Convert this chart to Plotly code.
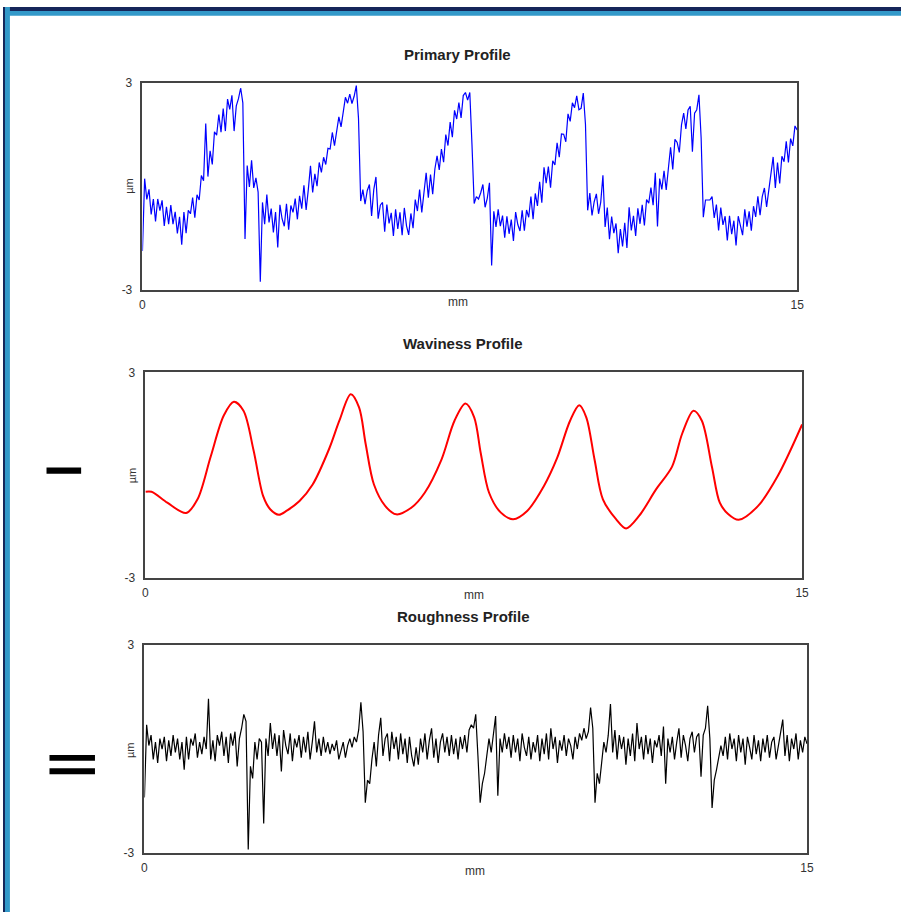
import plotly.graph_objects as go

W_FIG, H_FIG = 908, 919

# ---------------- data ----------------
# common sampling positions for primary / roughness profiles (mm)
x_mm = [round(i * 0.05, 2) for i in range(301)]

primary_um = [
    # 0.00 - 0.95
    -1.88, 0.22, -0.38, -0.09, -0.82, -0.37, -1.02, -0.37, -0.71, -0.41,
    -1.15, -0.60, -1.10, -0.55, -1.10, -0.74, -1.37, -0.89, -1.70, -0.75,
    # 1.00 - 1.95
    -1.36, -0.70, -0.80, -0.33, -0.91, -0.25, -0.40, 0.31, 0.16, 1.82,
    0.28, 1.03, 0.63, 1.58, 1.48, 2.08, 1.57, 2.25, 1.60, 2.53,
    # 2.00 - 2.95
    2.23, 2.64, 1.60, 2.33, 2.54, 2.85, 2.42, -1.53, 0.60, -0.02,
    0.75, -0.05, 0.24, -0.17, -2.77, -0.47, -1.10, -0.24, -1.05, -0.65,
    # 3.00 - 3.95
    -1.34, -0.75, -1.78, -0.54, -0.95, -1.16, -0.51, -1.26, -0.56, -0.76,
    -0.36, -0.96, -0.28, -0.65, 0.03, -0.69, -0.10, 0.59, -0.18, 0.36,
    # 4.00 - 4.95
    0.00, 0.69, 0.40, 0.84, 0.63, 1.10, 1.08, 1.56, 1.18, 1.65,
    2.01, 1.72, 2.23, 2.58, 2.41, 2.67, 2.40, 2.61, 2.92, 1.97,
    # 5.00 - 5.95
    -0.43, -0.10, -0.52, -0.13, 0.05, -0.86, -0.10, 0.27, -0.94, -0.55,
    -0.47, -1.32, -0.53, -1.08, -0.77, -1.44, -0.67, -1.24, -0.76, -1.42,
    # 6.00 - 6.95
    -0.63, -1.15, -1.41, -0.79, -1.22, -0.39, -0.72, -0.10, -0.76, -0.08,
    0.39, -0.33, 0.34, -0.23, 0.50, 0.88, 0.47, 1.08, 0.70, 1.50,
    # 7.00 - 7.95
    1.18, 1.86, 1.42, 2.20, 1.95, 2.43, 1.98, 2.63, 2.72, 2.50,
    2.72, 1.20, -0.50, -0.30, -0.37, -0.19, 0.05, -0.61, -0.35, 0.10,
    # 8.00 - 8.95
    -2.30, -0.73, -1.18, -0.67, -1.16, -0.85, -1.49, -0.87, -1.38, -0.97,
    -1.59, -0.75, -1.11, -1.30, -0.70, -1.29, -0.69, -0.90, -0.30, -0.96,
    # 9.00 - 9.95
    -0.21, -0.57, 0.13, -0.48, 0.55, 0.09, 0.57, -0.04, 0.74, 0.62,
    1.26, 0.84, 1.52, 1.51, 1.29, 2.10, 1.88, 2.42, 2.28, 2.62,
    # 10.00 - 10.95
    2.22, 2.26, 2.70, 1.80, -0.70, -0.20, -0.85, -0.45, -0.22, -0.80,
    -0.46, 0.32, -1.18, -0.62, -1.54, -0.88, -1.36, -1.08, -1.94, -1.24,
    # 11.00 - 11.95
    -1.75, -1.06, -1.79, -0.61, -1.28, -0.86, -1.44, -0.64, -1.09, -0.54,
    -1.14, -0.39, -0.49, -0.04, -0.55, 0.39, -1.17, 0.22, -0.09, 0.45,
    # 12.00 - 12.95
    -0.11, 0.52, 1.13, 0.49, 1.36, 1.27, 0.98, 1.78, 2.12, 1.66,
    2.21, 2.32, 1.00, 2.12, 2.22, 2.65, 1.40, -0.90, -0.40, -0.40,
    # 13.00 - 13.95
    -0.40, -0.30, -0.92, -0.53, -1.28, -0.62, -1.12, -0.87, -1.57, -0.86,
    -1.39, -1.00, -1.72, -0.87, -1.12, -1.42, -0.67, -1.17, -0.73, -1.29,
    # 14.00 - 15.00
    -0.58, -0.89, -0.29, -0.84, -0.30, -0.05, -0.60, -0.11, 0.34, 0.85,
    -0.05, 0.69, 0.08, 0.87, 0.71, 1.30, 0.69, 1.38, 1.17, 1.75, 1.63,
]

waviness_x_mm = [0.0, 0.14, 0.5, 0.93, 1.19, 1.49, 1.79, 2.02, 2.24, 2.47,
                 2.69, 2.85, 3.05, 3.22, 3.52, 3.82, 4.20, 4.43, 4.69, 4.88,
                 5.03, 5.22, 5.48, 5.73, 6.08, 6.38, 6.76, 7.06, 7.31, 7.51,
                 7.66, 7.85, 8.12, 8.40, 8.72, 9.10, 9.40, 9.70, 9.91, 10.07,
                 10.26, 10.45, 10.75, 10.98, 11.28, 11.66, 12.03, 12.26, 12.52, 12.71,
                 12.94, 13.12, 13.31, 13.55, 13.99, 14.44, 15.0]
waviness_um = [-0.48, -0.48, -0.80, -1.10, -0.70, 0.54, 1.74, 2.14, 1.88, 0.73,
               -0.61, -0.99, -1.15, -1.04, -0.75, -0.27, 0.78, 1.59, 2.36, 1.98,
               0.92, -0.27, -0.90, -1.14, -0.94, -0.51, 0.45, 1.59, 2.09, 1.69,
               0.64, -0.51, -1.09, -1.28, -1.04, -0.32, 0.49, 1.59, 2.04, 1.69,
               0.45, -0.70, -1.28, -1.55, -1.18, -0.42, 0.25, 1.21, 1.88, 1.59,
               0.25, -0.80, -1.13, -1.30, -0.90, -0.03, 1.48]

roughness_um = [
    # 0.00 - 0.95
    -1.4, 0.7, 0.1, 0.4, -0.3, 0.2, -0.4, 0.3, 0.0, 0.35,
    -0.35, 0.25, -0.2, 0.4, -0.1, 0.3, -0.3, 0.2, -0.6, 0.35,
    # 1.00 - 1.95
    -0.3, 0.3, 0.1, 0.45, -0.25, 0.2, -0.15, 0.35, 0.0, 1.45,
    -0.3, 0.25, -0.35, 0.4, 0.1, 0.5, -0.2, 0.35, -0.4, 0.45,
    # 2.00 - 2.95
    0.1, 0.5, -0.5, 0.3, 0.6, 1.0, 0.8, -2.9, -0.5, -0.85,
    0.2, -0.3, 0.3, 0.2, -2.15, 0.3, -0.2, 0.75, 0.0, 0.45,
    # 3.00 - 3.95
    -0.2, 0.4, -0.65, 0.55, 0.1, -0.15, 0.45, -0.35, 0.3, 0.05,
    0.4, -0.25, 0.35, -0.1, 0.5, -0.3, 0.2, 0.8, -0.1, 0.3,
    # 4.00 - 4.95
    -0.2, 0.35, -0.1, 0.2, -0.15, 0.15, -0.05, 0.25, -0.3, 0.0,
    0.2, -0.25, 0.1, 0.3, 0.05, 0.35, 0.2, 0.55, 1.35, 0.5,
    # 5.00 - 5.95
    -1.55, -0.9, -1.0, -0.3, 0.2, -0.5, 0.4, 0.9, -0.2, 0.3,
    0.45, -0.35, 0.5, 0.0, 0.35, -0.3, 0.45, -0.15, 0.3, -0.4,
    # 6.00 - 6.95
    0.35, -0.2, -0.5, 0.05, -0.45, 0.3, -0.1, 0.45, -0.3, 0.25,
    0.6, -0.25, 0.3, -0.4, 0.2, 0.45, -0.1, 0.35, -0.2, 0.4,
    # 7.00 - 7.95
    -0.15, 0.3, -0.3, 0.35, 0.0, 0.4, -0.1, 0.55, 0.7, 0.6,
    1.0, -0.2, -1.55, -1.0, -0.7, -0.2, 0.3, -0.1, 0.35, 0.95,
    # 8.00 - 8.95
    -1.35, 0.3, -0.1, 0.45, 0.0, 0.35, -0.25, 0.4, -0.1, 0.3,
    -0.35, 0.45, 0.05, -0.2, 0.35, -0.3, 0.2, -0.1, 0.4, -0.35,
    # 9.00 - 9.95
    0.3, -0.15, 0.45, -0.3, 0.6, 0.0, 0.35, -0.4, 0.25, -0.05,
    0.4, -0.2, 0.3, 0.1, -0.3, 0.35, 0.0, 0.45, 0.25, 0.6,
    # 10.00 - 10.95
    0.3, 0.5, 1.2, 0.6, -1.55, -0.7, -1.0, -0.3, 0.2, -0.1,
    0.4, 1.3, -0.1, 0.55, -0.3, 0.4, 0.0, 0.35, -0.45, 0.3,
    # 11.00 - 11.95
    -0.2, 0.45, -0.35, 0.75, 0.0, 0.35, -0.3, 0.4, -0.15, 0.3,
    -0.4, 0.25, 0.05, 0.4, -0.2, 0.65, -1.0, 0.3, -0.1, 0.35,
    # 12.00 - 12.95
    -0.3, 0.2, 0.6, -0.25, 0.4, 0.1, -0.35, 0.3, 0.5, -0.1,
    0.35, 0.45, -0.8, 0.4, 0.6, 1.25, 0.3, -1.7, -0.9, -0.6,
    # 13.00 - 13.95
    -0.3, 0.1, -0.2, 0.35, -0.3, 0.45, 0.0, 0.3, -0.35, 0.4,
    -0.1, 0.3, -0.45, 0.35, 0.05, -0.3, 0.4, -0.15, 0.25, -0.35,
    # 14.00 - 15.00
    0.3, -0.1, 0.4, -0.25, 0.2, 0.35, -0.3, 0.1, 0.45, 0.85,
    -0.2, 0.4, -0.35, 0.3, 0.0, 0.45, -0.3, 0.25, -0.1, 0.35, 0.15,
]

panel_titles = ["Primary Profile", "Waviness Profile", "Roughness Profile"]
x_ticks = [0, 15]
x_tick_labels = ["0", "15"]
y_ticks = [-3, 3]
y_tick_labels = ["-3", "3"]
x_label = "mm"
y_label = "µm"

# ---------------- layout helpers (reference pixels -> paper fractions) ----------------
def px_x(p):
    return p / W_FIG

def px_y(p):
    return 1 - p / H_FIG

# plot boxes in pixels: (left, right, top, bottom)
boxes = [(141, 803, 77, 287), (144, 808, 371, 580), (143, 813, 648, 859)]
title_pos = [(460, 48), (465, 342), (466, 619)]
mm_pos = [(460, 300), (476, 597), (477, 877)]
um_pos = [(128, 182), (130, 476), (129, 755)]

FONT = "Liberation Sans, Arial, sans-serif"

fig = go.Figure()
fig.add_trace(go.Scatter(x=x_mm, y=primary_um, mode="lines",
                         line=dict(color="#0000ff", width=1.2),
                         xaxis="x", yaxis="y", showlegend=False))
fig.add_trace(go.Scatter(x=waviness_x_mm, y=waviness_um, mode="lines",
                         line=dict(color="#ff0000", width=2.0, shape="spline", smoothing=0.9),
                         xaxis="x2", yaxis="y2", showlegend=False))
fig.add_trace(go.Scatter(x=x_mm, y=roughness_um, mode="lines",
                         line=dict(color="#000000", width=1.2),
                         xaxis="x3", yaxis="y3", showlegend=False))

layout = dict(
    autosize=True,
    margin=dict(l=0, r=0, t=0, b=0, pad=0),
    paper_bgcolor="white", plot_bgcolor="white",
    font=dict(family=FONT, size=12, color="#333333"),
)

annotations = []
shapes = []
for i, (l, r, t, b) in enumerate(boxes):
    sfx = "" if i == 0 else str(i + 1)
    layout["xaxis" + sfx] = dict(
        domain=[px_x(l), px_x(r)], range=[0, 15], anchor="y" + sfx,
        tickvals=x_ticks, ticktext=x_tick_labels, showgrid=False, zeroline=False,
        showline=True, linecolor="#444444", linewidth=1.5, mirror=True,
        ticks="outside", ticklen=3, tickcolor="rgba(0,0,0,0)",
        tickfont=dict(size=12, color="#333333", family=FONT), fixedrange=True,
    )
    layout["yaxis" + sfx] = dict(
        domain=[px_y(b), px_y(t)], range=[-3, 3], anchor="x" + sfx,
        tickvals=y_ticks, ticktext=y_tick_labels, showgrid=False, zeroline=False,
        showline=True, linecolor="#444444", linewidth=1.5, mirror=True,
        ticks="outside", ticklen=6, tickcolor="rgba(0,0,0,0)",
        tickfont=dict(size=12, color="#333333", family=FONT), fixedrange=True,
    )
    tx, ty = title_pos[i]
    annotations.append(dict(text="<b>%s</b>" % panel_titles[i], x=px_x(tx), y=px_y(ty),
                            xref="paper", yref="paper", showarrow=False,
                            xanchor="center", yanchor="middle",
                            font=dict(size=15, color="#222222", family=FONT)))
    mx, my = mm_pos[i]
    annotations.append(dict(text=x_label, x=px_x(mx), y=px_y(my), xref="paper", yref="paper",
                            showarrow=False, xanchor="center", yanchor="middle",
                            font=dict(size=12, color="#333333", family=FONT)))
    ux, uy = um_pos[i]
    annotations.append(dict(text=y_label, x=px_x(ux), y=px_y(uy), xref="paper", yref="paper",
                            showarrow=False, xanchor="center", yanchor="middle", textangle=-90,
                            font=dict(size=11, color="#333333", family=FONT)))

# frame of the slide (top and left bands)
NAVY = "#15265a"
LBLUE = "#3399c9"
shapes += [
    dict(type="rect", xref="paper", yref="paper", x0=0, x1=1, y0=px_y(9), y1=1,
         fillcolor=LBLUE, line=dict(width=0), layer="above"),
    dict(type="rect", xref="paper", yref="paper", x0=0, x1=1, y0=px_y(4), y1=1,
         fillcolor=NAVY, line=dict(width=0), layer="above"),
    dict(type="rect", xref="paper", yref="paper", x0=0, x1=px_x(7), y0=0, y1=1,
         fillcolor=LBLUE, line=dict(width=0), layer="above"),
    dict(type="rect", xref="paper", yref="paper", x0=0, x1=px_x(2), y0=0, y1=1,
         fillcolor=NAVY, line=dict(width=0), layer="above"),
    # minus sign
    dict(type="rect", xref="paper", yref="paper", x0=px_x(44), x1=px_x(79),
         y0=px_y(474), y1=px_y(467.5), fillcolor="black", line=dict(width=0)),
    # equals sign
    dict(type="rect", xref="paper", yref="paper", x0=px_x(47), x1=px_x(93),
         y0=px_y(765.5), y1=px_y(759.5), fillcolor="black", line=dict(width=0)),
    dict(type="rect", xref="paper", yref="paper", x0=px_x(47), x1=px_x(93),
         y0=px_y(779), y1=px_y(773), fillcolor="black", line=dict(width=0)),
]

layout["annotations"] = annotations
layout["shapes"] = shapes
fig.update_layout(**layout)
fig.write_html(
    "out.html",
    config={"displayModeBar": False, "responsive": True},
    default_width="100vw",
    default_height="100vh",
    post_script=(
        "document.body.style.margin='0px';"
        "document.body.style.overflow='hidden';"
        "window.dispatchEvent(new Event('resize'));"
    ),
)
